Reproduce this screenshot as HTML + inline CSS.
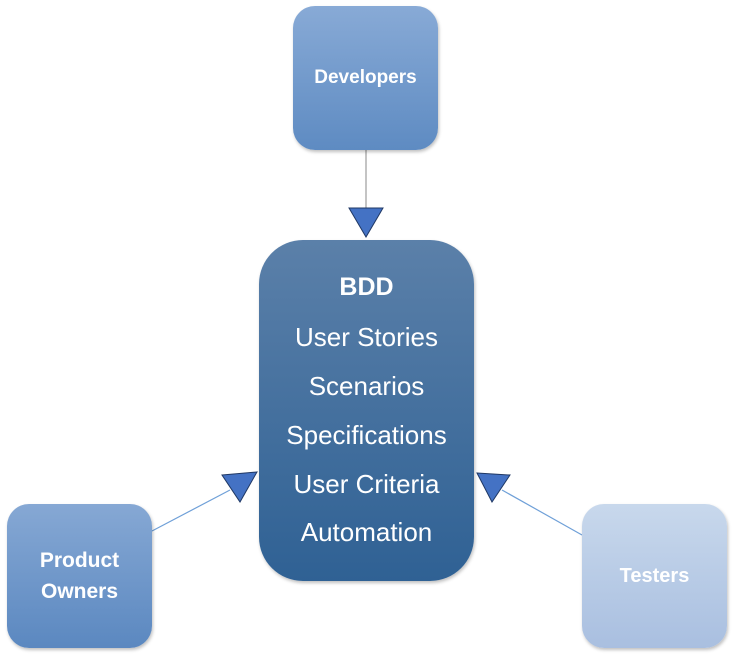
<!DOCTYPE html>
<html><head><style>
body{margin:0;width:735px;height:657px;background:#fff;position:relative;overflow:hidden;font-family:"Liberation Sans",sans-serif;}
.b{position:absolute;border-radius:22px;color:#fff;font-weight:bold;display:flex;align-items:center;justify-content:center;text-align:center;box-shadow:1px 2px 3px rgba(0,0,0,.25);}
#dev{left:293px;top:6px;width:145px;height:144px;background:linear-gradient(#88aad6,#5e8bc2);font-size:19px;}
#po{left:7px;top:504px;width:145px;height:144px;background:linear-gradient(#86a8d4,#5b88c0);font-size:21px;line-height:31px;}
#te{left:582px;top:504px;width:145px;height:144px;background:linear-gradient(#c8d8ec,#a9bfe0);font-size:20px;}
#c{left:259px;top:240px;width:215px;height:341px;border-radius:44px;background:linear-gradient(#5b80a9,#2f6194);display:block;font-weight:normal;font-size:26px;}
#c div{position:absolute;left:0;right:0;}
</style></head><body>
<svg width="735" height="657" style="position:absolute;left:0;top:0">
<line x1="366" y1="150" x2="366" y2="210" stroke="#888" stroke-width="1"/>
<line x1="152" y1="531" x2="230" y2="490" stroke="#6fa0d8" stroke-width="1.2"/>
<line x1="582" y1="535" x2="502" y2="490" stroke="#6fa0d8" stroke-width="1.2"/>
<polygon points="349,208 383,208 366,237" fill="#4472c4" stroke="#203864" stroke-width="1"/>
<polygon points="222,475 257,472 240,502" fill="#4472c4" stroke="#203864" stroke-width="1"/>
<polygon points="477,473 510,475 492,502" fill="#4472c4" stroke="#203864" stroke-width="1"/>
</svg>
<div class="b" id="dev">Developers</div>
<div class="b" id="po">Product<br>Owners</div>
<div class="b" id="te">Testers</div>
<div class="b" id="c">
<div style="top:33px;font-weight:bold;font-size:25px">BDD</div>
<div style="top:82px">User Stories</div>
<div style="top:131px">Scenarios</div>
<div style="top:180px">Specifications</div>
<div style="top:229px">User Criteria</div>
<div style="top:277px">Automation</div>
</div>
</body></html>
